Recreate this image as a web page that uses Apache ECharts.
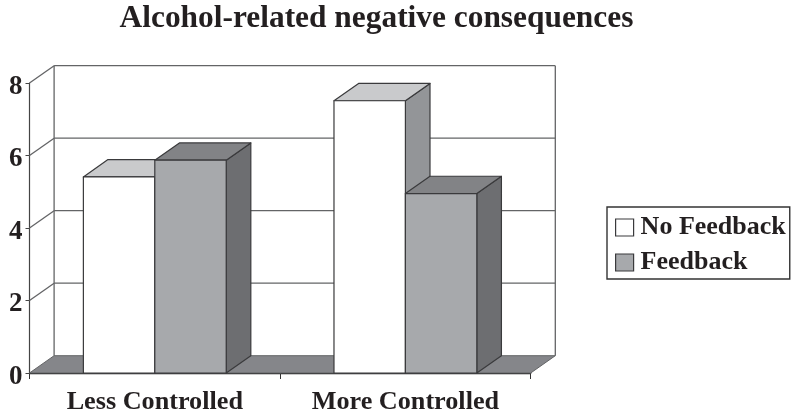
<!DOCTYPE html>
<html>
<head>
<meta charset="utf-8">
<style>html,body{margin:0;padding:0;background:#fff}#c{width:800px;height:420px}</style>
<script src="https://cdn.jsdelivr.net/npm/echarts@6/dist/echarts.min.js"></script>
</head>
<body>
<div id="c"></div>
<script>
const titleText = 'Alcohol-related negative consequences';
const categories = ['Less Controlled', 'More Controlled'];
const seriesNames = ['No Feedback', 'Feedback'];
const noFeedback = [5.41, 7.51];
const feedback = [5.87, 4.95];
const yTicks = [0, 2, 4, 6, 8];

const font = '"Liberation Serif", "Times New Roman", serif';
const ink = '#231f20';
const edge = '#3a3a3c';
const gridCol = '#636466';
const depthX = 24.6, depthY = -17.3;
const barShare = 0.285;

const palette = {
  'No Feedback': { front: '#ffffff', top: '#c9cacc', side: '#939598' },
  'Feedback': { front: '#a7a9ac', top: '#828386', side: '#6d6e71' }
};

function wallItem(params, api) {
  const cs = params.coordSys;
  const v = api.value(0);
  const y = api.coord([0, v])[1];
  const x0 = cs.x, x1 = cs.x + cs.width;
  const line = { stroke: gridCol, lineWidth: 1.3, fill: null };
  const children = [];
  if (v === 0) {
    const yTop = cs.y + depthY, yBot = y + depthY;
    children.push({ type: 'polygon', shape: { points: [[x0, y], [x0 + depthX, yBot], [x1 + depthX, yBot], [x1, y]] },
      style: { fill: '#85868a', stroke: gridCol, lineWidth: 1 } });
    children.push({ type: 'line', shape: { x1: x0 + depthX, y1: yTop, x2: x0 + depthX, y2: yBot }, style: line });
    children.push({ type: 'line', shape: { x1: x1 + depthX, y1: yTop, x2: x1 + depthX, y2: yBot }, style: line });
  } else {
    children.push({ type: 'line', shape: { x1: x0, y1: y, x2: x0 + depthX, y2: y + depthY }, style: line });
    children.push({ type: 'line', shape: { x1: x0 + depthX, y1: y + depthY, x2: x1 + depthX, y2: y + depthY }, style: line });
  }
  return { type: 'group', children };
}

function barItem(seriesIdx) {
  return function (params, api) {
    const c = palette[params.seriesName];
    const top = api.coord([api.value(0), api.value(1)]);
    const base = api.coord([api.value(0), 0]);
    const w = api.size([1, 0])[0] * barShare;
    const l = top[0] + (seriesIdx - 1) * w, r = l + w;
    const t = top[1], b = base[1];
    const st = f => ({ fill: f, stroke: edge, lineWidth: 1.2, lineJoin: 'round' });
    return { type: 'group', children: [
      { type: 'polygon', shape: { points: [[r, t], [r + depthX, t + depthY], [r + depthX, b + depthY], [r, b]] }, style: st(c.side) },
      { type: 'polygon', shape: { points: [[l, t], [l + depthX, t + depthY], [r + depthX, t + depthY], [r, t]] }, style: st(c.top) },
      { type: 'rect', shape: { x: l, y: t, width: w, height: b - t }, style: st(c.front) }
    ] };
  };
}

const chart = echarts.init(document.getElementById('c'), null, { renderer: 'canvas' });
chart.setOption({
  animation: false,
  backgroundColor: '#fff',
  title: {
    text: titleText, left: 371.5, top: -2, textAlign: 'center',
    textStyle: { fontFamily: font, fontWeight: 'bold', fontSize: 31.4, color: ink }
  },
  legend: {
    orient: 'vertical', left: 607, top: 207, width: 184,
    padding: [7.5, 4, 3.5, 8], itemGap: 9, itemWidth: 18, itemHeight: 17,
    backgroundColor: '#fff', borderColor: '#333', borderWidth: 1.4,
    selectedMode: false,
    textStyle: { fontFamily: font, fontWeight: 'bold', fontSize: 26, lineHeight: 17, color: ink, padding: [0, 0, 0, 2] },
    data: seriesNames.map(n => ({ name: n, icon: 'rect',
      itemStyle: { color: palette[n].front, borderColor: edge, borderWidth: 1.2 } }))
  },
  grid: { left: 29.5, top: 83, width: 501.2, height: 290 },
  xAxis: {
    type: 'category', data: categories,
    axisLine: { lineStyle: { color: '#222', width: 1.4 } },
    axisTick: { show: true, length: 6, lineStyle: { color: '#333', width: 1 } },
    axisLabel: { fontFamily: font, fontWeight: 'bold', fontSize: 26.2, color: ink, margin: 16 }
  },
  yAxis: {
    type: 'value', min: 0, max: 8, interval: 2,
    splitLine: { show: false },
    axisLine: { show: true, lineStyle: { color: '#444', width: 1.2 } },
    axisTick: { show: true, length: 4, lineStyle: { color: '#444', width: 1 } },
    axisLabel: { fontFamily: font, fontWeight: 'bold', fontSize: 27, color: ink, margin: 7, verticalAlign: 'top', lineHeight: 8 }
  },
  series: [
    { type: 'custom', name: 'wall', silent: true, coordinateSystem: 'cartesian2d',
      encode: { y: 0 }, data: yTicks.map(v => [v]), renderItem: wallItem, z: 1 },
    { type: 'custom', name: seriesNames[0], coordinateSystem: 'cartesian2d',
      encode: { x: 0, y: 1 }, data: noFeedback.map((v, i) => [i, v]), renderItem: barItem(0), z: 2 },
    { type: 'custom', name: seriesNames[1], coordinateSystem: 'cartesian2d',
      encode: { x: 0, y: 1 }, data: feedback.map((v, i) => [i, v]), renderItem: barItem(1), z: 3 }
  ]
});
</script>
</body>
</html>
